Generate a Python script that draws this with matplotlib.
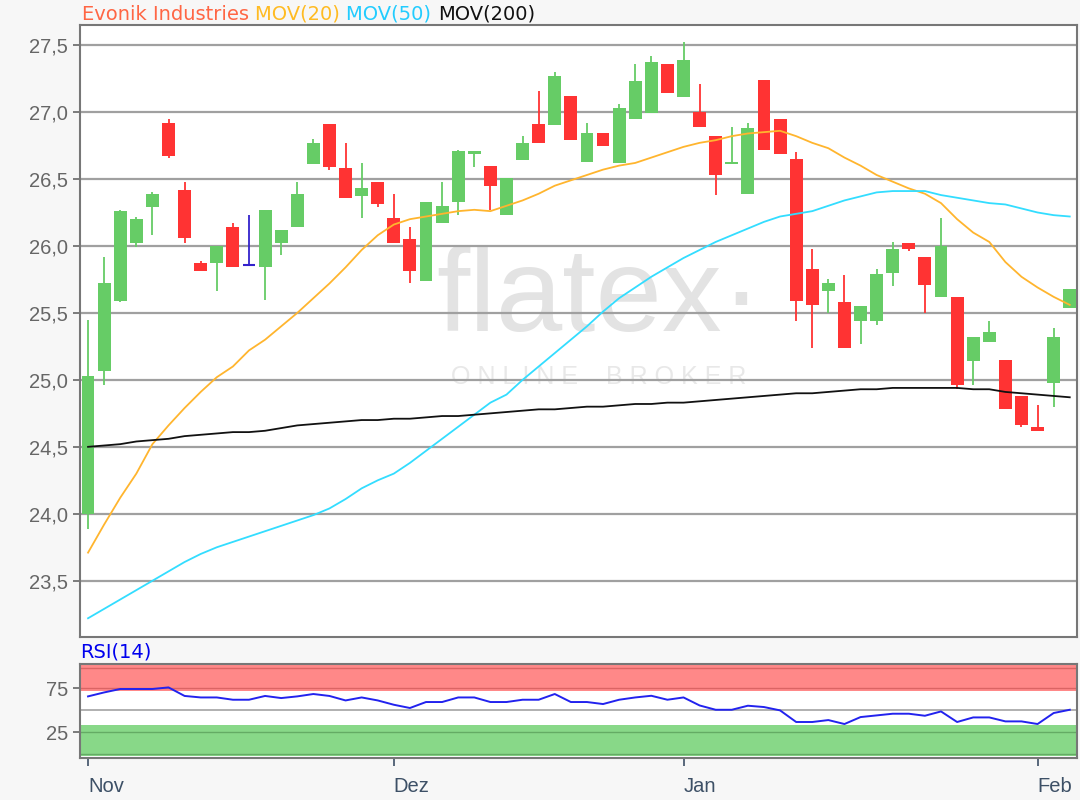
import numpy as np
import matplotlib.pyplot as plt

plt.rcParams['font.family'] = ['Liberation Sans', 'DejaVu Sans']

# --- daily candles, Nov .. Feb (trading days) ---
opens  = [24.00, 25.07, 25.59, 26.02, 26.29, 26.92, 26.42, 25.87, 25.87, 26.14,
          25.86, 25.84, 26.02, 26.14, 26.61, 26.91, 26.58, 26.37, 26.48, 26.21,
          26.05, 25.74, 26.17, 26.33, 26.69, 26.60, 26.23, 26.64, 26.91, 26.90,
          27.12, 26.63, 26.84, 26.62, 26.95, 26.99, 27.36, 27.11, 27.00, 26.82,
          26.61, 26.39, 27.24, 26.95, 26.65, 25.83, 25.66, 25.58, 25.44, 25.44,
          25.80, 26.02, 25.92, 25.62, 25.62, 25.14, 25.28, 25.15, 24.88, 24.65,
          24.98, 25.54]
highs  = [25.45, 25.92, 26.27, 26.22, 26.40, 26.95, 26.48, 25.89, 26.00, 26.17,
          26.23, 26.27, 26.12, 26.48, 26.80, 26.91, 26.77, 26.62, 26.48, 26.39,
          26.14, 26.33, 26.48, 26.72, 26.71, 26.60, 26.51, 26.82, 27.16, 27.30,
          27.12, 26.92, 26.84, 27.06, 27.36, 27.42, 27.36, 27.52, 27.21, 26.82,
          26.89, 26.92, 27.24, 26.95, 26.70, 25.98, 25.75, 25.78, 25.55, 25.83,
          26.03, 26.02, 25.92, 26.21, 25.62, 25.32, 25.44, 25.15, 24.88, 24.81,
          25.39, 25.68]
lows   = [23.89, 24.96, 25.58, 25.99, 26.08, 26.66, 26.02, 25.81, 25.66, 25.84,
          25.86, 25.60, 25.93, 26.14, 26.61, 26.57, 26.36, 26.21, 26.29, 26.02,
          25.72, 25.74, 26.17, 26.23, 26.59, 26.27, 26.23, 26.64, 26.77, 26.90,
          26.79, 26.63, 26.75, 26.62, 26.95, 26.99, 27.14, 27.11, 26.89, 26.38,
          26.61, 26.39, 26.72, 26.69, 25.44, 25.24, 25.50, 25.24, 25.27, 25.41,
          25.70, 25.96, 25.50, 25.62, 24.93, 24.96, 25.28, 24.78, 24.65, 24.62,
          24.80, 25.54]
closes = [25.03, 25.72, 26.26, 26.20, 26.39, 26.67, 26.06, 25.81, 26.00, 25.84,
          25.86, 26.27, 26.12, 26.39, 26.77, 26.59, 26.36, 26.43, 26.31, 26.02,
          25.81, 26.33, 26.30, 26.71, 26.71, 26.45, 26.51, 26.77, 26.77, 27.27,
          26.79, 26.84, 26.75, 27.03, 27.23, 27.37, 27.14, 27.39, 26.89, 26.53,
          26.63, 26.88, 26.72, 26.69, 25.59, 25.56, 25.72, 25.24, 25.55, 25.79,
          25.98, 25.98, 25.71, 26.00, 24.96, 25.32, 25.36, 24.78, 24.66, 24.62,
          25.32, 25.68]

# moving averages
ma20  = [23.71, 23.92, 24.12, 24.30, 24.52, 24.66, 24.79, 24.91, 25.02, 25.10,
         25.22, 25.30, 25.40, 25.50, 25.61, 25.72, 25.84, 25.97, 26.08, 26.16,
         26.20, 26.22, 26.24, 26.26, 26.27, 26.26, 26.30, 26.34, 26.39, 26.45,
         26.49, 26.53, 26.57, 26.60, 26.62, 26.66, 26.70, 26.74, 26.77, 26.79,
         26.82, 26.84, 26.85, 26.86, 26.82, 26.77, 26.73, 26.66, 26.60, 26.53,
         26.48, 26.43, 26.39, 26.32, 26.20, 26.10, 26.03, 25.88, 25.77, 25.69,
         25.62, 25.56]
ma50  = [23.22, 23.29, 23.36, 23.43, 23.50, 23.57, 23.64, 23.70, 23.75, 23.79,
         23.83, 23.87, 23.91, 23.95, 23.99, 24.04, 24.11, 24.19, 24.25, 24.30,
         24.38, 24.47, 24.56, 24.65, 24.74, 24.83, 24.89, 25.00, 25.10, 25.20,
         25.30, 25.40, 25.51, 25.61, 25.69, 25.77, 25.84, 25.91, 25.97, 26.03,
         26.08, 26.13, 26.18, 26.22, 26.24, 26.26, 26.30, 26.34, 26.37, 26.40,
         26.41, 26.41, 26.41, 26.38, 26.36, 26.34, 26.32, 26.31, 26.28, 26.25,
         26.23, 26.22]
ma200 = [24.50, 24.51, 24.52, 24.54, 24.55, 24.56, 24.58, 24.59, 24.60, 24.61,
         24.61, 24.62, 24.64, 24.66, 24.67, 24.68, 24.69, 24.70, 24.70, 24.71,
         24.71, 24.72, 24.73, 24.73, 24.74, 24.75, 24.76, 24.77, 24.78, 24.78,
         24.79, 24.80, 24.80, 24.81, 24.82, 24.82, 24.83, 24.83, 24.84, 24.85,
         24.86, 24.87, 24.88, 24.89, 24.90, 24.90, 24.91, 24.92, 24.93, 24.93,
         24.94, 24.94, 24.94, 24.94, 24.94, 24.93, 24.93, 24.91, 24.90, 24.89,
         24.88, 24.87]
rsi   = [65.5, 70.0, 73.9, 73.9, 73.9, 75.7, 66.0, 64.3, 64.3, 61.7,
         61.7, 66.0, 63.6, 65.5, 68.2, 66.0, 60.9, 64.3, 60.9, 56.0,
         52.3, 59.1, 59.1, 64.3, 64.3, 59.1, 59.1, 61.7, 61.7, 68.2,
         59.1, 59.1, 56.8, 61.7, 64.3, 66.2, 61.7, 64.3, 55.2, 50.3,
         50.3, 54.9, 53.4, 49.6, 36.4, 36.4, 38.6, 34.1, 42.0, 43.9,
         45.8, 45.8, 43.5, 48.4, 36.4, 41.6, 41.6, 37.1, 37.1, 34.1,
         46.6, 50.3]

months = ["Nov", "Dez", "Jan", "Feb"]
month_start = [0, 19, 37, 59]   # index of first trading day in each month
price_ticks = [23.5, 24.0, 24.5, 25.0, 25.5, 26.0, 26.5, 27.0, 27.5]

GREEN, RED, DOJI = "#66cc66", "#ff3333", "#3322cc"
x = np.arange(len(opens))
o, h, l, c = map(np.array, (opens, highs, lows, closes))

fig = plt.figure(figsize=(10.8, 8), dpi=100, facecolor="#f7f7f7")
ax = fig.add_axes([80/1080, 1-637/800, 997/1080, 612/800])
rx = fig.add_axes([80/1080, 1-758/800, 997/1080, 94/800])

# --- price panel ---
for yv in price_ticks:
    ax.axhline(yv, color="#a0a0a0", lw=1.6, zorder=1)

# watermark
ax.text(0.52, 0.55, "flatex\u00b7", transform=ax.transAxes, ha="center", va="center",
        fontsize=86, color="#e3e3e3", zorder=0.5)
ax.text(0.52, 0.425, "O N L I N E    B R O K E R", transform=ax.transAxes, ha="center",
        va="center", fontsize=18, color="#e8e8e8", zorder=0.5)

up = c > o
eq = c == o
cols = np.where(up, GREEN, RED)
ax.vlines(x[~eq], l[~eq], h[~eq], colors=cols[~eq], lw=1.3, zorder=2)
body = np.maximum(np.abs(c - o), 0.02)
ax.bar(x[~eq], body[~eq], bottom=np.minimum(o, c)[~eq], width=0.8,
       color=cols[~eq], zorder=3, linewidth=0)
ax.vlines(x[eq], l[eq], h[eq], colors=DOJI, lw=1.3, zorder=3)
ax.hlines(c[eq], x[eq]-0.4, x[eq]+0.4, colors=DOJI, lw=1.5, zorder=3)

ax.plot(x, ma20, color="#ffb52e", lw=1.3, zorder=4)
ax.plot(x, ma50, color="#33ddff", lw=1.3, zorder=4)
ax.plot(x, ma200, color="#111111", lw=1.3, zorder=4)

ax.set_xlim(-0.5, 61.45)
ax.set_ylim(23.08, 27.65)
ax.set_yticks(price_ticks)
ax.set_yticklabels([f"{v:.1f}".replace(".", ",") for v in price_ticks])
ax.tick_params(axis="y", length=5, width=1.2, color="#666666",
               labelcolor="#666666", labelsize=14.5)
ax.tick_params(axis="x", bottom=False, labelbottom=False)
for s in ax.spines.values():
    s.set_color("#777777")
    s.set_linewidth(1.5)

# --- RSI panel ---
rx.axhspan(72, 101, color="#ff8888", lw=0, zorder=0)
rx.axhspan(-2, 33, color="#88d888", lw=0, zorder=0)
for yv in (75, 98):
    rx.axhline(yv, color="#cc5555", lw=1, alpha=0.7, zorder=1)
for yv in (0, 25):
    rx.axhline(yv, color="#559955", lw=1, alpha=0.7, zorder=1)
rx.axhline(50, color="#aaaaaa", lw=1.3, zorder=1)
rx.plot(x, rsi, color="#2222ee", lw=1.4, zorder=3)
rx.set_xlim(-0.5, 61.45)
rx.set_ylim(-4.5, 102.3)
rx.set_yticks([25, 75])
rx.set_yticklabels(["25", "75"])
rx.tick_params(axis="y", length=5, width=1.2, color="#666666",
               labelcolor="#666666", labelsize=14.5)
rx.set_xticks(month_start)
rx.set_xticklabels(months)
rx.tick_params(axis="x", length=6, width=1.2, color="#3d5066",
               labelcolor="#3d5066", labelsize=14.5, pad=8)
for lab in rx.get_xticklabels():
    lab.set_horizontalalignment("left")
for s in rx.spines.values():
    s.set_color("#777777")
    s.set_linewidth(1.5)
fig.text(80/1080, 1-652/800, "RSI(14)", color="#0000ee", fontsize=14,
         va="center", family="DejaVu Sans")

# --- multi-coloured header ---
parts = [("Evonik Industries ", "#ff6644"), ("MOV(20) ", "#ffbb22"),
         ("MOV(50) ", "#22ccff"), ("MOV(200)", "#111111")]
r = fig.canvas.get_renderer()
xpos = 82/1080
for txt, col in parts:
    t = fig.text(xpos, 1-14/800, txt, color=col, fontsize=14, va="center",
                 family="DejaVu Sans")
    bb = t.get_window_extent(renderer=r)
    xpos += bb.width / fig.bbox.width

fig.savefig("out.png", dpi=100, facecolor=fig.get_facecolor())
